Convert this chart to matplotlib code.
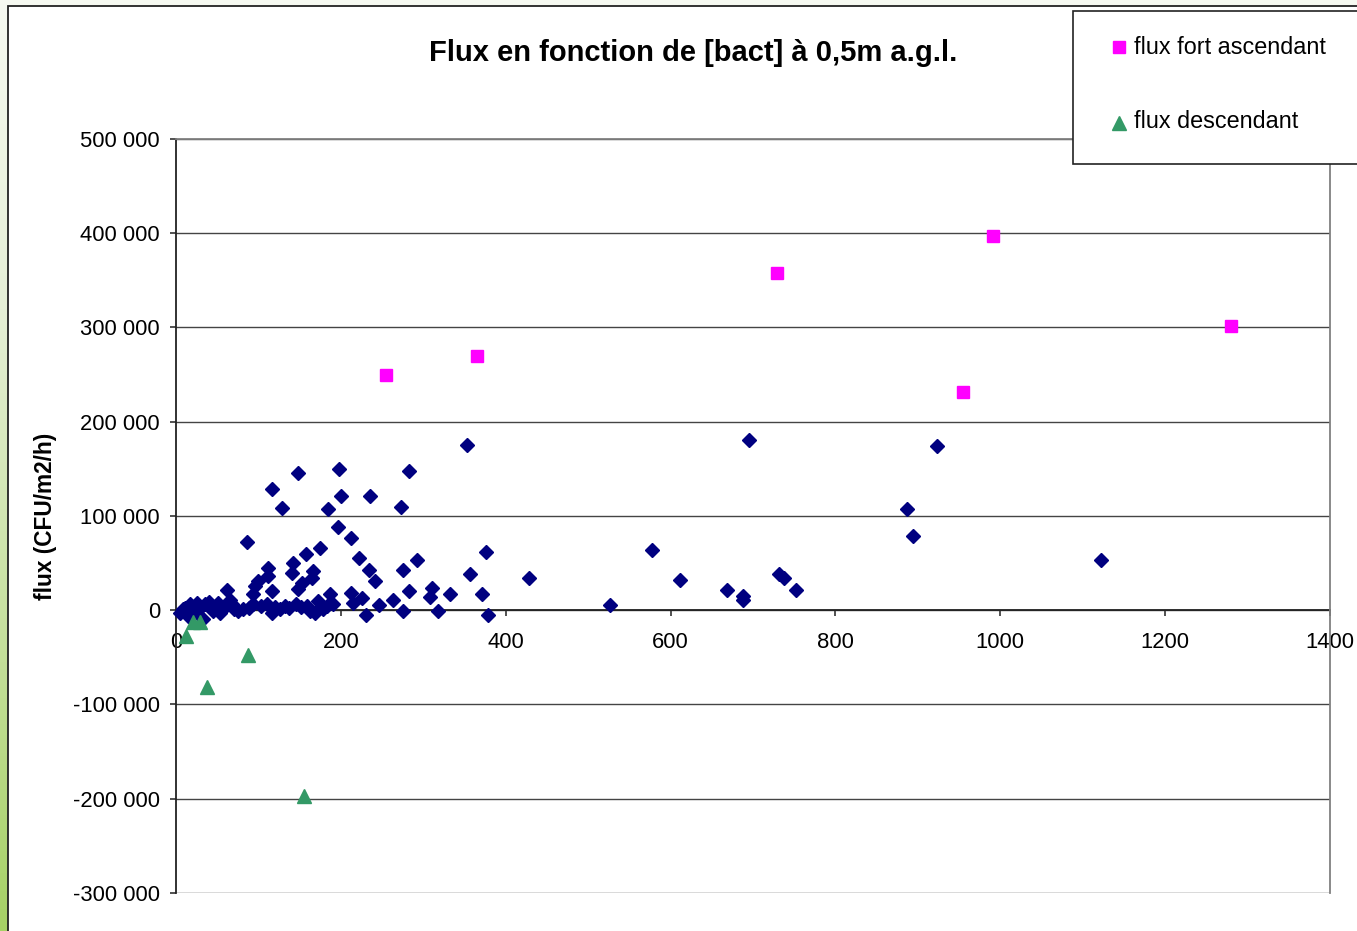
import numpy as np
import matplotlib
matplotlib.use('Agg')
import matplotlib.pyplot as plt
from matplotlib.patches import Rectangle
from matplotlib.lines import Line2D
from matplotlib.ticker import FuncFormatter, MultipleLocator
from matplotlib.colors import LinearSegmentedColormap

plt.rcParams['font.family'] = ['Liberation Sans', 'DejaVu Sans']

# --- data ---
# bacteria concentration [bact] vs flux (CFU/m2/h)
bact_all = [5, 8, 11, 15, 17, 22, 25, 28, 33, 35, 40, 43, 45, 51, 53, 58,
            61.5, 65.5, 67.5, 70, 75.6, 81.7, 86.5, 88, 94, 94, 96, 100,
            103, 110, 112, 112, 116, 116, 116, 120, 126, 128, 132, 137,
            140.3, 142.3, 146, 148, 148, 152, 152.5, 157.7, 158.5, 163,
            164.6, 166.6, 168.6, 172.6, 174.7, 178, 183, 184.8, 187, 191,
            197, 198, 200, 212, 212, 215, 222, 226, 231, 234, 235, 241.4,
            246, 263, 273, 275.8, 275.8, 283, 282.6, 292.8, 308, 310, 317.5,
            332, 353, 356.7, 371, 376, 379, 428, 526.5, 577.5, 611, 668.5,
            688, 688, 695, 731.6, 737.6, 752, 887, 894, 923, 1122]
flux_all = [-2500, 1000, 2900, -6000, 6400, -3000, 8200, 1500, -9500, 6400,
            9000, 2900, -1000, 8200, -2500, 2000, 21200, 10600, 6400, 1500,
            -700, 1000, 72500, 2500, 6400, 17000, 25800, 31100, 4000, 6400,
            45300, 36400, 20500, -2500, 128400, 3000, 1000, 109000, 4600,
            2000, 40000, 50600, 6400, 145400, 22300, 3000, 29400, 59400,
            4600, -500, 34700, 41700, -2500, 9900, 66500, 1500, 4600, 107200,
            17000, 6400, 87800, 149600, 121000, 77100, 18000, 8200, 55900,
            13500, -5000, 42800, 121000, 31500, 6000, 10600, 109300, 42800,
            -700, 20900, 147500, 53000, 14500, 24100, -700, 17000, 175000,
            38200, 17000, 61900, -5000, 34000, 5300, 63700, 31800, 21200,
            14900, 10600, 180400, 38200, 34000, 21200, 107200, 78500, 174000,
            53000]

bact_up = [255, 365, 729, 991, 955, 1280]
flux_up = [249300, 269500, 357600, 396800, 231300, 301300]

bact_down = [12, 20.6, 29, 37.6, 87, 155]
flux_down = [-27600, -12700, -12700, -81700, -47700, -197300]

title = "Flux en fonction de [bact] à 0,5m a.g.l."
ylabel = "flux (CFU/m2/h)"
label_up = "flux fort ascendant"
label_down = "flux descendant"

W, H = 1357, 931
fig = plt.figure(figsize=(W / 100, H / 100), dpi=100)
fig.patch.set_facecolor('white')

# green gradient background behind the chart frame
bg = fig.add_axes([0, 0, 1, 1], zorder=-10)
bg.axis('off')
cmap_bg = LinearSegmentedColormap.from_list(
    'bg', [(0, '#f6f9f1'), (0.33, '#e5efd6'), (0.69, '#c5e09c'), (1, '#a6d165')])
grad = np.linspace(0, 1, 256).reshape(-1, 1)
bg.imshow(grad, aspect='auto', cmap=cmap_bg, extent=[0, 1, 0, 1], origin='upper')
bg.set_xlim(0, 1)
bg.set_ylim(0, 1)

# white chart frame
fig.add_artist(Rectangle((8 / W, -0.1), 1.2, 1 - 6 / H + 0.1,
                         transform=fig.transFigure, facecolor='white',
                         edgecolor='#222222', linewidth=1.3, zorder=-5))

ax = fig.add_axes([176 / W, 1 - 893 / H, (1330 - 176) / W, (893 - 139) / H])
ax.set_facecolor('white')

ax.plot(bact_all, flux_all, linestyle='none', marker='D', ms=6.8,
        color='#000080', mec='#000080', zorder=3, clip_on=False)
ax.plot(bact_up, flux_up, linestyle='none', marker='s', ms=9,
        color='#ff00ff', mec='#ff00ff', zorder=4, clip_on=False)
ax.plot(bact_down, flux_down, linestyle='none', marker='^', ms=10,
        color='#339966', mec='#339966', zorder=5, clip_on=False)

ax.set_xlim(0, 1400)
ax.set_ylim(-300000, 500000)
ax.xaxis.set_major_locator(MultipleLocator(200))
ax.yaxis.set_major_locator(MultipleLocator(100000))
ax.yaxis.set_major_formatter(
    FuncFormatter(lambda v, p: f"{v:,.0f}".replace(',', ' ')))

ax.grid(True, axis='y', color='#444444', linewidth=1.0, zorder=0)
ax.set_axisbelow(True)

for s in ['top', 'right']:
    ax.spines[s].set_color('#808080')
    ax.spines[s].set_linewidth(1.3)
ax.spines['left'].set_color('#222222')
ax.spines['left'].set_linewidth(1.3)
ax.spines['bottom'].set_position(('data', 0))
ax.spines['bottom'].set_color('#222222')
ax.spines['bottom'].set_linewidth(1.3)
ax.spines['bottom'].set_zorder(2)

ax.tick_params(axis='y', direction='out', length=4.5, width=1.1,
               color='#222222', pad=7, labelsize=15.8)
ax.tick_params(axis='x', direction='out', length=4.5, width=1.1,
               color='#222222', pad=11, labelsize=15.8)

fig.text(693 / W, 1 - 53 / H, title, ha='center', va='center',
         fontsize=21, fontweight='bold')
fig.text(46 / W, 1 - 516 / H, ylabel, ha='center', va='center',
         rotation=90, fontsize=16.3, fontweight='bold')

# legend box (top right, runs past the figure edge)
fig.add_artist(Rectangle((1073 / W, 1 - 164 / H), 0.3, (164 - 11) / H,
                         transform=fig.transFigure, facecolor='white',
                         edgecolor='#222222', linewidth=1.2, zorder=6))
fig.add_artist(Line2D([1119 / W], [1 - 47 / H], transform=fig.transFigure,
                      marker='s', ms=9, color='#ff00ff', linestyle='none',
                      zorder=7))
fig.add_artist(Line2D([1119 / W], [1 - 123 / H], transform=fig.transFigure,
                      marker='^', ms=10, color='#339966', linestyle='none',
                      zorder=7))
fig.text(1134 / W, 1 - 47 / H, label_up, ha='left', va='center',
         fontsize=16.8, zorder=7)
fig.text(1134 / W, 1 - 121 / H, label_down, ha='left', va='center',
         fontsize=16.8, zorder=7)

fig.savefig('out.png', dpi=100)
